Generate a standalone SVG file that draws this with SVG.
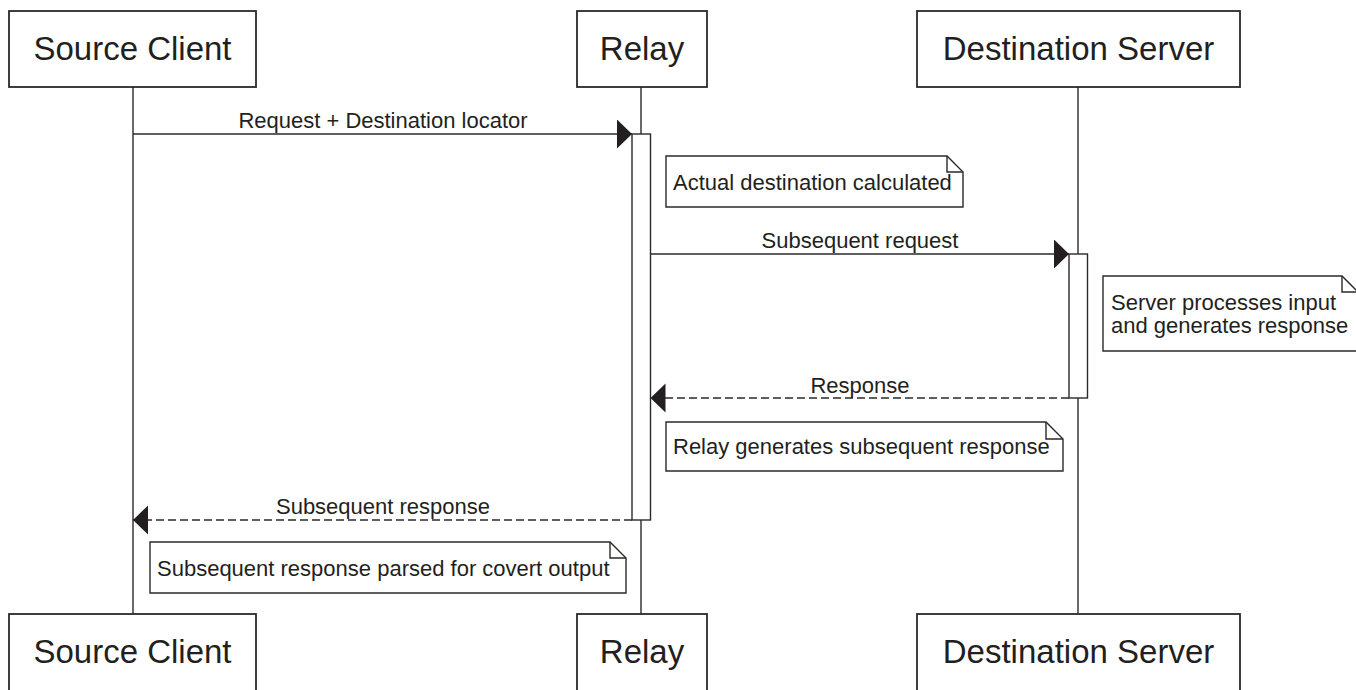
<svg xmlns="http://www.w3.org/2000/svg" width="1356" height="690" viewBox="0 0 1356 690">
<style>
  .bg{fill:#ffffff}
  .box{fill:#ffffff;stroke:#2b2a29;stroke-width:1.8}
  .title{font-family:"Liberation Sans",Arial,sans-serif;font-size:33px;fill:#231f20;text-anchor:middle}
  .life{stroke:#2b2a29;stroke-width:1.4;fill:none}
  .act{fill:#ffffff;stroke:#2b2a29;stroke-width:1.4}
  .msg{stroke:#2b2a29;stroke-width:1.4;fill:none}
  .dash{stroke-dasharray:8,4}
  .lbl{font-family:"Liberation Sans",Arial,sans-serif;font-size:22px;fill:#231f20;text-anchor:middle}
  .note{fill:#ffffff;stroke:#2b2a29;stroke-width:1.4}
  .fold{fill:none;stroke:#2b2a29;stroke-width:1.4}
  .ntxt{font-family:"Liberation Sans",Arial,sans-serif;font-size:22px;fill:#231f20}
</style>
<defs>
  <marker id="head" markerUnits="userSpaceOnUse" markerWidth="16" markerHeight="30" refX="15" refY="14.5" orient="auto" viewBox="0 0 16 30">
    <path d="M0,0 L15,14.5 L0,29 Z" fill="#231f20"/>
  </marker>
</defs>
<rect class="bg" x="0" y="0" width="1356" height="690"/>

<g id="lifelines">
  <line class="life" x1="133" y1="87" x2="133" y2="614"/>
  <line class="life" x1="641" y1="87" x2="641" y2="614"/>
  <line class="life" x1="1078" y1="87" x2="1078" y2="614"/>
</g>

<g id="source-client">
  <rect class="box" x="9" y="11" width="247" height="76"/>
  <text class="title" x="132.5" y="60">Source Client</text>
</g>
<g id="relay">
  <rect class="box" x="577" y="11" width="130" height="76"/>
  <text class="title" x="642" y="60">Relay</text>
</g>
<g id="destination-server">
  <rect class="box" x="917" y="11" width="323" height="76"/>
  <text class="title" x="1078.5" y="60">Destination Server</text>
</g>

<g id="source-client-bottom">
  <rect class="box" x="9" y="614" width="247" height="80"/>
  <text class="title" x="132.5" y="663">Source Client</text>
</g>
<g id="relay-bottom">
  <rect class="box" x="577" y="614" width="130" height="80"/>
  <text class="title" x="642" y="663">Relay</text>
</g>
<g id="destination-server-bottom">
  <rect class="box" x="917" y="614" width="323" height="80"/>
  <text class="title" x="1078.5" y="663">Destination Server</text>
</g>

<g id="activations">
  <rect id="relay-activation" class="act" x="632" y="134" width="18.5" height="386"/>
  <rect id="server-activation" class="act" x="1069" y="254" width="18.5" height="144"/>
</g>

<g id="connectors">
  <line class="msg" x1="133" y1="134" x2="632" y2="134" marker-end="url(#head)"/>
  <text class="lbl" x="383" y="128">Request + Destination locator</text>

  <line class="msg" x1="650.5" y1="254" x2="1069" y2="254" marker-end="url(#head)"/>
  <text class="lbl" x="860" y="248">Subsequent request</text>

  <line class="msg dash" x1="1069" y1="398" x2="650.5" y2="398" marker-end="url(#head)"/>
  <text class="lbl" x="860" y="393">Response</text>

  <line class="msg dash" x1="632" y1="520" x2="133" y2="520" marker-end="url(#head)"/>
  <text class="lbl" x="383" y="514">Subsequent response</text>
</g>

<g id="note-actual-destination">
  <path class="note" d="M666,156 L947,156 L963,172 L963,207 L666,207 Z"/>
  <path class="fold" d="M947,156 L947,172 L963,172"/>
  <text class="ntxt" x="673" y="190">Actual destination calculated</text>
</g>

<g id="note-server-processes">
  <path class="note" d="M1103,276 L1342,276 L1358,292 L1358,351 L1103,351 Z"/>
  <path class="fold" d="M1342,276 L1342,292 L1358,292"/>
  <text class="ntxt" x="1111" y="310">Server processes input</text>
  <text class="ntxt" x="1111" y="333">and generates response</text>
</g>

<g id="note-relay-generates">
  <path class="note" d="M666,422 L1046,422 L1063,439 L1063,471 L666,471 Z"/>
  <path class="fold" d="M1046,422 L1046,439 L1063,439"/>
  <text class="ntxt" x="673" y="454">Relay generates subsequent response</text>
</g>

<g id="note-parsed">
  <path class="note" d="M150,542 L610,542 L626,558 L626,593 L150,593 Z"/>
  <path class="fold" d="M610,542 L610,558 L626,558"/>
  <text class="ntxt" x="157" y="576">Subsequent response parsed for covert output</text>
</g>
</svg>
